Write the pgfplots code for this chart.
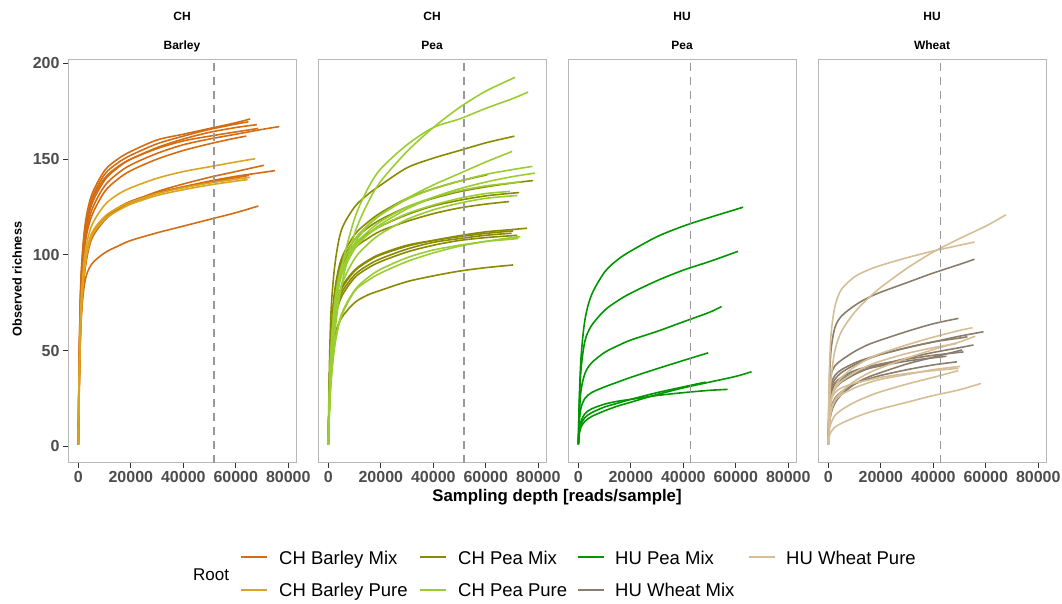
\documentclass[border=0pt]{standalone}
\usepackage{fontspec}
\setmainfont{Liberation Sans}
\usepackage{pgfplots}
\pgfplotsset{compat=1.18}
\definecolor{cbm}{RGB}{212,108,18}
\definecolor{cbp}{RGB}{218,165,32}
\definecolor{cpm}{RGB}{138,138,0}
\definecolor{cpp}{RGB}{154,205,50}
\definecolor{hpm}{RGB}{0,150,0}
\definecolor{hwm}{RGB}{139,125,107}
\definecolor{hwp}{RGB}{213,190,150}
\definecolor{ticklab}{RGB}{77,77,77}
\pgfplotsset{
  panel/.style={
    scale only axis, width=228pt, height=403.7pt,
    xmin=-3950, xmax=82950, ymin=-8.6, ymax=202.3,
    anchor=south west,
    axis line style={draw=black!28, line width=0.9pt},
    tick align=outside, tick pos=left,
    major tick length=5pt,
    every tick/.style={draw=black!80, line width=0.9pt},
    xtick={0,20000,40000,60000,80000},
    scaled ticks=false,
    /pgf/number format/fixed,
    /pgf/number format/set thousands separator={},
    /pgf/number format/assume math mode=true,
    tick label style={font=\fontsize{16}{19}\selectfont\bfseries, text=ticklab},
    clip mode=individual,
    every axis plot/.append style={line width=1.6pt, smooth, tension=0.5, forget plot},
  },
  vl/.style={draw=black!40, line width=1.4pt, dash pattern=on 8pt off 6pt, sharp plot},
  lk/.style={line width=1.6pt, sharp plot, forget plot},
}
\newcommand{\strip}[2]{%
  \node[font=\fontsize{12}{14}\selectfont\bfseries, anchor=base] at (rel axis cs:0.5,1) [yshift=38.3pt] {#1};
  \node[font=\fontsize{12}{14}\selectfont\bfseries, anchor=base] at (rel axis cs:0.5,1) [yshift=9.7pt] {#2};}
\begin{document}
\begin{tikzpicture}[x=1pt,y=1pt]
\useasboundingbox (0,0) rectangle (1062,603);
% ---------------- Panel 1: CH Barley
\begin{axis}[panel, at={(68pt,140.3pt)}, ytick={0,50,100,150,200}]
\strip{CH}{Barley}
\addplot[cbm] coordinates {(0,1)(300,45)(1000,88)(2500,115)(5000,131)(10000,144)(15000,150)(20000,154)(30000,160)(40000,163)(50000,166)(60000,169)(65500,171)};
\addplot[cbm] coordinates {(0,1)(300,43)(1000,86)(2500,113)(5000,129)(10000,142)(15000,148)(20000,152)(30000,158)(40000,162)(50000,165.5)(60000,168.3)(64800,169.5)};
\addplot[cbm] coordinates {(0,1)(300,40)(1000,82)(2500,110)(5000,126)(10000,139)(15000,145.5)(20000,150)(30000,156)(40000,160.5)(50000,164)(60000,166.5)(68000,168)};
\addplot[cbm] coordinates {(0,1)(300,38)(1000,80)(2500,107)(5000,123)(10000,136)(15000,142.5)(20000,147)(30000,153)(40000,157.5)(50000,160.5)(60000,163)(70000,165.5)(76600,167)};
\addplot[cbm] coordinates {(0,1)(300,41)(1000,84)(2500,112)(5000,128)(10000,140)(15000,146)(20000,150)(30000,155.5)(40000,159.5)(50000,162)(60000,164.2)(68500,166)};
\addplot[cbm] coordinates {(0,1)(300,37)(1000,78)(2500,105)(5000,120)(10000,133)(15000,139.5)(20000,144)(30000,150)(40000,154.5)(50000,158)(60000,161)(64000,162)};
\addplot[cbm] coordinates {(0,1)(300,30)(1000,66)(2500,92)(5000,108)(10000,118)(15000,123.5)(20000,127.5)(30000,133)(40000,137)(50000,140.5)(60000,143.5)(70800,146.8)};
\addplot[cbm] coordinates {(0,1)(300,30)(1000,66)(2500,93)(5000,109)(10000,118.5)(15000,123.5)(20000,127)(30000,132)(40000,135.5)(50000,138.5)(60000,141)(70000,143)(75000,144)};
\addplot[cbm] coordinates {(0,1)(300,31)(1000,68)(2500,94)(5000,110)(10000,119.5)(15000,124.5)(20000,128)(30000,132.5)(40000,135.5)(50000,138)(60000,140.3)(65000,141.5)};
\addplot[cbm] coordinates {(0,1)(300,27)(1000,65)(2500,86)(5000,95)(10000,101)(15000,104.5)(20000,107.5)(30000,111.5)(40000,115)(50000,118.5)(60000,122)(68600,125.5)};
\addplot[cbp] coordinates {(0,1)(300,35)(1000,74)(2500,100)(5000,115)(10000,126)(15000,131.5)(20000,135)(30000,140)(40000,143.5)(50000,146)(60000,148.5)(67400,150.2)};
\addplot[cbp] coordinates {(0,1)(300,32)(1000,70)(2500,96)(5000,111)(10000,120)(15000,124.5)(20000,127.5)(30000,132)(40000,135)(50000,137.5)(60000,139.5)(65500,140.5)};
\addplot[cbp] coordinates {(0,1)(300,31)(1000,68)(2500,94)(5000,109.5)(10000,118.5)(15000,123)(20000,126.5)(30000,131)(40000,134)(50000,136.5)(60000,138.5)(64500,139.3)};
\addplot[vl] coordinates {(51760,-8.6)(51760,202.3)};
\end{axis}
% ---------------- Panel 2: CH Pea
\begin{axis}[panel, at={(318pt,140.3pt)}, ytick=\empty]
\strip{CH}{Pea}
\addplot[cpm] coordinates {(0,1)(300,35)(1000,70)(2500,95)(5000,113)(10000,125)(15000,131.5)(20000,136.5)(30000,145.5)(40000,150.5)(50000,154.5)(60000,158.5)(70000,161.7)(70680,161.9)};
\addplot[cpm] coordinates {(0,1)(300,24)(1000,55)(2500,80)(5000,96)(10000,108)(15000,114)(20000,118.5)(30000,125)(40000,129.5)(50000,133)(60000,135.5)(70000,137.5)(78030,138.8)};
\addplot[cpm] coordinates {(0,1)(300,25)(1000,57)(2500,82)(5000,98)(10000,110.5)(15000,117)(20000,122)(30000,129.5)(40000,134.5)(50000,138.5)(60520,141.8)};
\addplot[cpm] coordinates {(0,1)(300,25)(1000,56)(2500,80)(5000,95)(10000,105.5)(15000,111)(20000,115)(30000,121)(40000,125.5)(50000,128.5)(60000,130.8)(70000,132.2)(72700,132.5)};
\addplot[cpm] coordinates {(0,1)(300,26)(1000,57)(2500,80)(5000,94)(10000,103.5)(15000,108.5)(20000,112.5)(30000,117.5)(40000,121.5)(50000,124.5)(60000,126.5)(68890,127.8)};
\addplot[cpm] coordinates {(0,1)(300,22)(1000,50)(2500,70)(5000,82)(10000,91.5)(15000,96.5)(20000,100)(30000,104.5)(40000,107.5)(50000,110)(60000,112)(70000,113.2)(75740,113.9)};
\addplot[cpm] coordinates {(0,1)(300,23)(1000,51)(2500,71)(5000,83)(10000,92)(15000,97)(20000,100.5)(30000,105)(40000,107.5)(50000,109.5)(60000,111.2)(70420,112.5)};
\addplot[cpm] coordinates {(0,1)(300,21)(1000,48)(2500,68)(5000,80)(10000,89.5)(15000,94.5)(20000,98)(30000,103)(40000,106.5)(50000,108.5)(60000,110.2)(69800,111.3)};
\addplot[cpm] coordinates {(0,1)(300,20)(1000,46)(2500,66)(5000,78)(10000,88)(15000,93)(20000,96.5)(30000,101.5)(40000,105)(50000,107.5)(60000,109)(70000,110)(72000,110.2)};
\addplot[cpm] coordinates {(0,1)(300,18)(1000,42)(2500,58)(5000,67)(10000,75)(15000,79)(20000,81.5)(30000,86)(40000,89)(50000,91.5)(60000,93.3)(70420,94.7)};
\addplot[cpp] coordinates {(0,1)(300,15)(1000,35)(2500,60)(5000,84)(10000,111)(15000,127)(20000,138.5)(30000,154)(40000,166.5)(50000,177)(60000,185.5)(70000,192)(71060,192.7)};
\addplot[cpp] coordinates {(0,1)(300,18)(1000,42)(2500,69)(5000,93)(10000,119)(15000,134.5)(20000,145)(30000,157.5)(40000,166.5)(50000,171)(60000,176.5)(70000,181.5)(76120,185)};
\addplot[cpp] coordinates {(0,1)(300,20)(1000,46)(2500,72)(5000,90)(10000,106)(15000,115)(20000,121)(30000,129.5)(40000,136.5)(50000,142.5)(60000,148.5)(70030,154)};
\addplot[cpp] coordinates {(0,1)(300,22)(1000,50)(2500,76)(5000,94)(10000,108)(15000,115.5)(20000,121)(30000,129)(40000,134.5)(50000,138.5)(60000,142)(70000,144.5)(77790,146.2)};
\addplot[cpp] coordinates {(0,1)(300,20)(1000,46)(2500,71)(5000,89)(10000,103)(15000,110.5)(20000,116)(30000,124)(40000,130)(50000,134.5)(60000,138)(70000,140.8)(78790,142.7)};
\addplot[cpp] coordinates {(0,1)(300,21)(1000,48)(2500,73)(5000,91)(10000,105)(15000,112)(20000,117.5)(30000,125)(40000,130)(50000,133.5)(60000,136)(70000,137.6)(73600,138.3)};
\addplot[cpp] coordinates {(0,1)(300,22)(1000,50)(2500,75)(5000,92)(10000,104)(15000,110.5)(20000,115)(30000,121.5)(40000,126)(50000,129.5)(60000,132)(69160,133.1)};
\addplot[cpp] coordinates {(0,1)(300,18)(1000,42)(2500,66)(5000,84)(10000,98)(15000,105.5)(20000,111)(30000,118.5)(40000,123.5)(50000,127)(60000,129.5)(70000,130.8)(72000,131)};
\addplot[cpp] coordinates {(0,1)(300,14)(1000,33)(2500,53)(5000,68)(10000,81)(15000,86.5)(20000,90.5)(30000,96.5)(40000,101)(50000,104.5)(60000,107)(70000,109)(73220,109.5)};
\addplot[cpp] coordinates {(0,1)(300,15)(1000,35)(2500,54)(5000,69)(10000,81.5)(15000,88)(20000,92.5)(30000,98.5)(40000,102.5)(50000,105)(60000,107)(70000,108.2)(72460,108.6)};
\addplot[vl] coordinates {(51760,-8.6)(51760,202.3)};
\end{axis}
% ---------------- Panel 3: HU Pea
\begin{axis}[panel, at={(568pt,140.3pt)}, ytick=\empty]
\strip{HU}{Pea}
\addplot[hpm] coordinates {(0,1)(300,22)(1000,46)(2500,66)(5000,79)(10000,91)(15000,97.5)(20000,102)(30000,109.5)(40000,115)(50000,119.5)(60000,123.7)(62800,124.9)};
\addplot[hpm] coordinates {(0,1)(300,20)(1000,40)(2500,55)(5000,63)(10000,71)(15000,76)(20000,80)(30000,86.5)(40000,92)(50000,96.5)(60000,101.4)(60520,101.7)};
\addplot[hpm] coordinates {(0,1)(300,15)(1000,29)(2500,38)(5000,43.5)(10000,49)(15000,52.5)(20000,55.5)(30000,60)(40000,65)(50000,70)(54570,73)};
\addplot[hpm] coordinates {(0,1)(300,12)(1000,20)(2500,25)(5000,28)(10000,31)(15000,33.5)(20000,36)(30000,40.5)(40000,44.8)(49480,48.8)};
\addplot[hpm] coordinates {(0,1)(300,6)(1000,10)(2500,13)(5000,15.5)(10000,18.5)(15000,21)(20000,23)(30000,27)(40000,30.5)(50000,33.5)(60000,36.5)(66000,38.9)};
\addplot[hpm] coordinates {(0,1)(300,8)(1000,13)(2500,17)(5000,19.5)(10000,22)(15000,23.5)(20000,24.5)(30000,26.5)(40000,28)(50000,29.2)(56860,29.7)};
\addplot[hpm] coordinates {(0,1)(300,7)(1000,11.5)(2500,15)(5000,17.5)(10000,20.5)(15000,22.5)(20000,24.5)(30000,28)(40000,31)(48500,33.5)};
\addplot[vl] coordinates {(42700,-8.6)(42700,202.3)};
\end{axis}
% ---------------- Panel 4: HU Wheat
\begin{axis}[panel, at={(818pt,140.3pt)}, ytick=\empty]
\strip{HU}{Wheat}
\addplot[hwm] coordinates {(0,1)(300,30)(1000,50)(2500,62)(5000,68)(10000,73.5)(15000,77.5)(20000,80.5)(30000,85.5)(40000,90.5)(50000,95)(55690,97.7)};
\addplot[hwm] coordinates {(0,1)(300,26)(1000,37)(2500,42)(5000,45)(10000,49.5)(15000,53)(20000,55.5)(30000,60)(40000,64)(49600,66.8)};
\addplot[hwm] coordinates {(0,1)(300,20)(1000,30)(2500,35)(5000,38.5)(10000,42.5)(15000,45.5)(20000,48)(30000,51.5)(40000,54.5)(50000,57.5)(59110,59.8)};
\addplot[hwm] coordinates {(0,1)(300,16)(1000,25)(2500,30)(5000,33.5)(10000,37.5)(15000,40.5)(20000,42.5)(30000,46)(40000,49)(50000,51.5)(55300,52.9)};
\addplot[hwm] coordinates {(0,1)(300,19)(1000,28)(2500,33)(5000,36)(10000,39.5)(15000,41.5)(20000,43)(30000,45.5)(40000,47.5)(51500,49.3)};
\addplot[hwm] coordinates {(0,1)(300,13)(1000,20)(2500,25)(5000,28.5)(10000,32.5)(15000,35)(20000,37)(30000,40)(40000,42.5)(48980,44.1)};
\addplot[hwm] coordinates {(0,1)(300,22)(1000,32)(2500,37)(5000,40)(10000,43.5)(15000,46)(20000,48)(30000,51.5)(40000,54.5)(50000,56.5)(53000,57.2)};
\addplot[hwm] coordinates {(0,1)(300,10)(1000,17)(2500,22.5)(5000,27)(10000,32.5)(15000,36)(20000,38.5)(30000,43)(40000,46.5)(51000,50.3)};
\addplot[hwm] coordinates {(0,1)(300,18)(1000,27)(2500,32)(5000,35)(10000,38.5)(15000,40.5)(20000,42)(30000,44.5)(40000,46.2)(45000,47)};
\addplot[hwp] coordinates {(0,1)(300,18)(1000,35)(2500,50)(5000,60)(10000,70)(15000,77)(20000,83)(30000,93)(40000,101.5)(50000,108.5)(60000,115)(67630,120.9)};
\addplot[hwp] coordinates {(0,1)(300,35)(1000,58)(2500,73)(5000,82)(10000,88.5)(15000,92)(20000,94.5)(30000,98.5)(40000,102)(50000,105)(55690,106.7)};
\addplot[hwp] coordinates {(0,1)(300,14)(1000,24)(2500,31)(5000,36)(10000,41.5)(15000,45.5)(20000,48.5)(30000,53)(40000,57)(50000,60.5)(54920,61.9)};
\addplot[hwp] coordinates {(0,1)(300,15)(1000,24)(2500,30)(5000,34)(10000,38.5)(15000,42)(20000,44.5)(30000,48.5)(40000,51.5)(48980,53.7)};
\addplot[hwp] coordinates {(0,1)(300,12)(1000,19)(2500,24)(5000,27)(10000,30.5)(15000,33)(20000,35)(30000,37.5)(40000,40)(50240,41.7)};
\addplot[hwp] coordinates {(0,1)(300,16)(1000,24)(2500,28)(5000,30.5)(10000,33)(15000,34.5)(20000,36)(30000,38)(40000,39.5)(49600,40.7)};
\addplot[hwp] coordinates {(0,1)(300,5)(1000,7.5)(2500,10)(5000,12)(10000,15)(15000,17.5)(20000,19.5)(30000,23)(40000,26.5)(50000,29.5)(58100,32.8)};
\addplot[hwp] coordinates {(0,1)(300,8)(1000,12)(2500,16)(5000,19)(10000,23)(15000,26)(20000,28.5)(30000,32.5)(40000,36)(49500,39.5)};
\addplot[hwp] coordinates {(0,1)(300,10)(1000,18)(2500,24)(5000,28.5)(10000,34)(15000,38)(20000,41)(30000,46)(40000,50.5)(50000,54.5)(56000,57.5)};
\addplot[vl] coordinates {(42700,-8.6)(42700,202.3)};
\end{axis}
% ---------------- legend keys (hidden axis in page units)
\begin{axis}[at={(0pt,0pt)}, anchor=south west, scale only axis, width=1062pt, height=603pt,
  xmin=0, xmax=1062, ymin=0, ymax=603, hide axis, clip=false]
\addplot[lk, draw=cbm] coordinates {(241,46.3)(267,46.3)};
\addplot[lk, draw=cpm] coordinates {(420,46.3)(446,46.3)};
\addplot[lk, draw=hpm] coordinates {(578,46.3)(604,46.3)};
\addplot[lk, draw=hwp] coordinates {(749,46.3)(775,46.3)};
\addplot[lk, draw=cbp] coordinates {(241,13.3)(267,13.3)};
\addplot[lk, draw=cpp] coordinates {(420,13.3)(446,13.3)};
\addplot[lk, draw=hwm] coordinates {(578,13.3)(604,13.3)};
\end{axis}
% ---------------- labels
\begin{scope}[every node/.style={font=\fontsize{18.5}{21}\selectfont, anchor=base west, inner sep=0pt}]
\node at (279,39) {CH Barley Mix};
\node at (458,39) {CH Pea Mix};
\node at (615,39) {HU Pea Mix};
\node at (786,39) {HU Wheat Pure};
\node at (279,7) {CH Barley Pure};
\node at (458,7) {CH Pea Pure};
\node at (615,7) {HU Wheat Mix};
\end{scope}
\node[font=\fontsize{16.8}{19}\selectfont\bfseries, anchor=base] at (557,102) {Sampling depth [reads/sample]};
\node[font=\fontsize{12.7}{15}\selectfont\bfseries, anchor=base, rotate=90] at (21.5,324) {Observed richness};
\node[font=\fontsize{17}{20}\selectfont, anchor=base west, inner sep=0pt] at (193,22.3) {Root};
\end{tikzpicture}
\end{document}
